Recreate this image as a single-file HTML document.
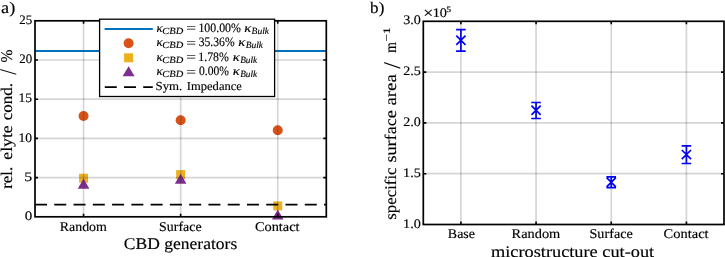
<!DOCTYPE html><html><head><meta charset="utf-8"><style>html,body{margin:0;padding:0;background:#fff;overflow:hidden}svg{display:block}text{font-family:"Liberation Serif","DejaVu Serif",serif;text-rendering:geometricPrecision;fill:#000;stroke:#000;stroke-width:0.15px}</style></head><body>
<svg width="725" height="257" viewBox="0 0 725 257">
<rect width="725" height="257" fill="#fff"/>
<path d="M35.0 51H326.3" stroke="#0072BD" stroke-width="1.8"/>
<circle cx="83.55" cy="116.0" r="5.0" fill="#D95319"/>
<circle cx="180.65" cy="120.2" r="5.0" fill="#D95319"/>
<circle cx="277.75" cy="130.2" r="5.0" fill="#D95319"/>
<rect x="79.05" y="173.70" width="9" height="9" fill="#EDB120"/>
<rect x="176.15" y="170.10" width="9" height="9" fill="#EDB120"/>
<rect x="273.25" y="201.40" width="9" height="9" fill="#EDB120"/>
<path d="M83.55 178.6L89.35 188.8L77.75 188.8Z" fill="#7E2F8E"/>
<path d="M180.65 173.8L186.45 183.8L174.85 183.8Z" fill="#7E2F8E"/>
<path d="M277.75 209.6L283.55 219.4L271.95 219.4Z" fill="#7E2F8E"/>
<path d="M35.0 204.6H326.3" stroke="#000" stroke-width="1.8" stroke-dasharray="12 7.27"/>
<path d="M83.55 20.8V216.8" stroke="#262626" stroke-opacity="0.19" stroke-width="1.7" fill="none"/>
<path d="M180.65 20.8V216.8" stroke="#262626" stroke-opacity="0.19" stroke-width="1.7" fill="none"/>
<path d="M277.75 20.8V216.8" stroke="#262626" stroke-opacity="0.19" stroke-width="1.7" fill="none"/>
<path d="M35.0 177.60H326.3" stroke="#262626" stroke-opacity="0.19" stroke-width="1.7" fill="none"/>
<path d="M35.0 138.40H326.3" stroke="#262626" stroke-opacity="0.19" stroke-width="1.7" fill="none"/>
<path d="M35.0 99.20H326.3" stroke="#262626" stroke-opacity="0.19" stroke-width="1.7" fill="none"/>
<path d="M35.0 60.00H326.3" stroke="#262626" stroke-opacity="0.19" stroke-width="1.7" fill="none"/>
<path d="M83.55 216.8v-3.0M83.55 20.8v3.0M180.65 216.8v-3.0M180.65 20.8v3.0M277.75 216.8v-3.0M277.75 20.8v3.0M35.0 177.60h3.0M326.3 177.60h-3.0M35.0 138.40h3.0M326.3 138.40h-3.0M35.0 99.20h3.0M326.3 99.20h-3.0M35.0 60.00h3.0M326.3 60.00h-3.0" stroke="#000" stroke-width="1.6" fill="none"/>
<rect x="35.0" y="20.8" width="291.30" height="196.00" fill="none" stroke="#000" stroke-width="1.7"/>
<rect x="99.6" y="19.2" width="175" height="77.3" fill="#fff" stroke="#000" stroke-width="1.3"/>
<path d="M104.6 29H152.8" stroke="#0072BD" stroke-width="1.8"/>
<circle cx="128.6" cy="43.2" r="5" fill="#D95319"/>
<rect x="124.1" y="53.3" width="9" height="9" fill="#EDB120"/>
<path d="M128.6 66.2L134.6 76.2L122.6 76.2Z" fill="#7E2F8E"/>
<path d="M104.8 87.2H152.8" stroke="#000" stroke-width="1.8" stroke-dasharray="12 7.2"/>
<path d="M460.89 29.6V51.1M456.09 29.6H465.69M456.09 51.1H465.69M456.29 35.70L465.49 44.90M456.29 44.90L465.49 35.70M536.06 102.5V118.5M531.26 102.5H540.86M531.26 118.5H540.86M531.46 105.70L540.66 114.90M531.46 114.90L540.66 105.70M611.24 176.8V187.7M606.44 176.8H616.04M606.44 187.7H616.04M606.64 177.60L615.84 186.80M606.64 186.80L615.84 177.60M686.41 145.9V163.5M681.61 145.9H691.21M681.61 163.5H691.21M681.81 150.00L691.01 159.20M681.81 159.20L691.01 150.00" stroke="#0000FF" stroke-width="1.7" fill="none"/>
<path d="M460.89 21.3V224.5" stroke="#262626" stroke-opacity="0.19" stroke-width="1.7" fill="none"/>
<path d="M536.06 21.3V224.5" stroke="#262626" stroke-opacity="0.19" stroke-width="1.7" fill="none"/>
<path d="M611.24 21.3V224.5" stroke="#262626" stroke-opacity="0.19" stroke-width="1.7" fill="none"/>
<path d="M686.41 21.3V224.5" stroke="#262626" stroke-opacity="0.19" stroke-width="1.7" fill="none"/>
<path d="M423.3 173.70H724.0" stroke="#262626" stroke-opacity="0.19" stroke-width="1.7" fill="none"/>
<path d="M423.3 122.90H724.0" stroke="#262626" stroke-opacity="0.19" stroke-width="1.7" fill="none"/>
<path d="M423.3 72.10H724.0" stroke="#262626" stroke-opacity="0.19" stroke-width="1.7" fill="none"/>
<path d="M460.89 224.5v-3.0M460.89 21.3v3.0M536.06 224.5v-3.0M536.06 21.3v3.0M611.24 224.5v-3.0M611.24 21.3v3.0M686.41 224.5v-3.0M686.41 21.3v3.0M423.3 173.70h3.0M724.0 173.70h-3.0M423.3 122.90h3.0M724.0 122.90h-3.0M423.3 72.10h3.0M724.0 72.10h-3.0" stroke="#000" stroke-width="1.6" fill="none"/>
<rect x="423.3" y="21.3" width="300.70" height="203.20" fill="none" stroke="#000" stroke-width="1.7"/>
<text x="1.06" y="12.60" style="font-size:16.3px" textLength="14.21" lengthAdjust="spacingAndGlyphs">a)</text>
<text x="24.70" y="219.90" style="font-size:13.0px" textLength="7.50" lengthAdjust="spacingAndGlyphs">0</text>
<text x="24.36" y="180.70" style="font-size:13.0px" textLength="7.88" lengthAdjust="spacingAndGlyphs">5</text>
<text x="18.58" y="141.50" style="font-size:13.0px" textLength="13.56" lengthAdjust="spacingAndGlyphs">10</text>
<text x="18.58" y="102.30" style="font-size:13.0px" textLength="13.56" lengthAdjust="spacingAndGlyphs">15</text>
<text x="19.22" y="63.10" style="font-size:13.0px" textLength="12.90" lengthAdjust="spacingAndGlyphs">20</text>
<text x="19.22" y="23.90" style="font-size:13.0px" textLength="12.90" lengthAdjust="spacingAndGlyphs">25</text>
<text x="59.78" y="230.80" style="font-size:13.4px" textLength="47.11" lengthAdjust="spacingAndGlyphs">Random</text>
<text x="159.10" y="230.80" style="font-size:13.4px" textLength="42.47" lengthAdjust="spacingAndGlyphs">Surface</text>
<text x="254.93" y="230.80" style="font-size:13.4px" textLength="44.65" lengthAdjust="spacingAndGlyphs">Contact</text>
<text x="123.80" y="249.00" style="font-size:16.3px" textLength="113.43" lengthAdjust="spacingAndGlyphs">CBD generators</text>
<text transform="translate(12.10 188.50) rotate(-90)" x="-0.34" y="0" style="font-size:16.3px" textLength="22.14" lengthAdjust="spacingAndGlyphs">rel.</text>
<text transform="translate(12.10 159.00) rotate(-90)" x="-0.71" y="0" style="font-size:16.3px" textLength="34.40" lengthAdjust="spacingAndGlyphs">elyte</text>
<text transform="translate(12.10 119.70) rotate(-90)" x="-0.68" y="0" style="font-size:16.3px" textLength="37.37" lengthAdjust="spacingAndGlyphs">cond.</text>
<text transform="translate(16.10 74.80) rotate(-90) scale(1 1.476)" x="-0.00" y="0" style="font-size:16.3px;stroke-width:0" textLength="5.76" lengthAdjust="spacingAndGlyphs">/</text>
<text transform="translate(12.10 61.90) rotate(-90)" x="-0.54" y="0" style="font-size:16.3px" textLength="12.96" lengthAdjust="spacingAndGlyphs">%</text>
<text x="156.45" y="31.60" style="font-size:12.2px;font-style:italic" textLength="6.12" lengthAdjust="spacingAndGlyphs">κ</text>
<text x="162.33" y="33.70" style="font-size:9.4px;font-style:italic" textLength="20.83" lengthAdjust="spacingAndGlyphs">CBD</text>
<text x="186.24" y="32.30" style="font-size:12.2px" textLength="9.70" lengthAdjust="spacingAndGlyphs">=</text>
<text x="198.43" y="31.60" style="font-size:12.9px" textLength="42.46" lengthAdjust="spacingAndGlyphs">100.00%</text>
<text x="244.19" y="31.60" style="font-size:12.2px;font-style:italic" textLength="6.96" lengthAdjust="spacingAndGlyphs">κ</text>
<text x="251.60" y="33.70" style="font-size:9.4px;font-style:italic" textLength="17.48" lengthAdjust="spacingAndGlyphs">Bulk</text>
<text x="156.45" y="46.10" style="font-size:12.2px;font-style:italic" textLength="6.12" lengthAdjust="spacingAndGlyphs">κ</text>
<text x="162.33" y="48.20" style="font-size:9.4px;font-style:italic" textLength="20.83" lengthAdjust="spacingAndGlyphs">CBD</text>
<text x="186.24" y="46.80" style="font-size:12.2px" textLength="9.70" lengthAdjust="spacingAndGlyphs">=</text>
<text x="198.72" y="46.10" style="font-size:12.9px" textLength="35.87" lengthAdjust="spacingAndGlyphs">35.36%</text>
<text x="238.29" y="46.10" style="font-size:12.2px;font-style:italic" textLength="6.96" lengthAdjust="spacingAndGlyphs">κ</text>
<text x="245.71" y="48.20" style="font-size:9.4px;font-style:italic" textLength="17.28" lengthAdjust="spacingAndGlyphs">Bulk</text>
<text x="156.45" y="60.60" style="font-size:12.2px;font-style:italic" textLength="6.12" lengthAdjust="spacingAndGlyphs">κ</text>
<text x="162.33" y="62.70" style="font-size:9.4px;font-style:italic" textLength="20.83" lengthAdjust="spacingAndGlyphs">CBD</text>
<text x="186.24" y="61.30" style="font-size:12.2px" textLength="9.70" lengthAdjust="spacingAndGlyphs">=</text>
<text x="198.34" y="60.60" style="font-size:12.9px" textLength="30.56" lengthAdjust="spacingAndGlyphs">1.78%</text>
<text x="232.79" y="60.60" style="font-size:12.2px;font-style:italic" textLength="6.96" lengthAdjust="spacingAndGlyphs">κ</text>
<text x="240.21" y="62.70" style="font-size:9.4px;font-style:italic" textLength="16.98" lengthAdjust="spacingAndGlyphs">Bulk</text>
<text x="156.45" y="75.10" style="font-size:12.2px;font-style:italic" textLength="6.12" lengthAdjust="spacingAndGlyphs">κ</text>
<text x="162.33" y="77.20" style="font-size:9.4px;font-style:italic" textLength="20.83" lengthAdjust="spacingAndGlyphs">CBD</text>
<text x="186.24" y="75.80" style="font-size:12.2px" textLength="9.70" lengthAdjust="spacingAndGlyphs">=</text>
<text x="198.94" y="75.10" style="font-size:12.9px" textLength="29.95" lengthAdjust="spacingAndGlyphs">0.00%</text>
<text x="232.79" y="75.10" style="font-size:12.2px;font-style:italic" textLength="6.96" lengthAdjust="spacingAndGlyphs">κ</text>
<text x="240.21" y="77.20" style="font-size:9.4px;font-style:italic" textLength="16.98" lengthAdjust="spacingAndGlyphs">Bulk</text>
<text x="155.57" y="89.60" style="font-size:12.2px" textLength="26.76" lengthAdjust="spacingAndGlyphs">Sym.</text>
<text x="186.86" y="89.60" style="font-size:12.2px" textLength="54.99" lengthAdjust="spacingAndGlyphs">Impedance</text>
<text x="370.10" y="12.60" style="font-size:16.3px" textLength="14.24" lengthAdjust="spacingAndGlyphs">b)</text>
<text x="403.12" y="227.50" style="font-size:13.0px" textLength="17.75" lengthAdjust="spacingAndGlyphs">1.0</text>
<text x="403.12" y="176.70" style="font-size:13.0px" textLength="17.75" lengthAdjust="spacingAndGlyphs">1.5</text>
<text x="403.27" y="125.90" style="font-size:13.0px" textLength="17.60" lengthAdjust="spacingAndGlyphs">2.0</text>
<text x="403.27" y="75.10" style="font-size:13.0px" textLength="17.60" lengthAdjust="spacingAndGlyphs">2.5</text>
<text x="403.19" y="24.30" style="font-size:13.0px" textLength="17.67" lengthAdjust="spacingAndGlyphs">3.0</text>
<text x="423.38" y="18.00" style="font-size:15.5px" textLength="10.03" lengthAdjust="spacingAndGlyphs">×</text>
<text x="432.72" y="16.50" style="font-size:13.0px" textLength="14.25" lengthAdjust="spacingAndGlyphs">10</text>
<text x="446.22" y="11.80" style="font-size:8.4px" textLength="4.87" lengthAdjust="spacingAndGlyphs">5</text>
<text x="447.88" y="238.20" style="font-size:13.4px" textLength="27.09" lengthAdjust="spacingAndGlyphs">Base</text>
<text x="511.57" y="238.20" style="font-size:13.4px" textLength="48.73" lengthAdjust="spacingAndGlyphs">Random</text>
<text x="589.48" y="238.20" style="font-size:13.4px" textLength="43.30" lengthAdjust="spacingAndGlyphs">Surface</text>
<text x="663.62" y="238.20" style="font-size:13.4px" textLength="44.96" lengthAdjust="spacingAndGlyphs">Contact</text>
<text x="491.03" y="256.90" style="font-size:16.3px" textLength="163.13" lengthAdjust="spacingAndGlyphs">microstructure cut-out</text>
<text transform="translate(396.00 219.00) rotate(-90)" x="-0.67" y="0" style="font-size:16.3px" textLength="52.16" lengthAdjust="spacingAndGlyphs">specific</text>
<text transform="translate(396.00 161.80) rotate(-90)" x="-0.72" y="0" style="font-size:16.3px" textLength="52.29" lengthAdjust="spacingAndGlyphs">surface</text>
<text transform="translate(396.00 104.90) rotate(-90)" x="-0.66" y="0" style="font-size:16.3px" textLength="31.33" lengthAdjust="spacingAndGlyphs">area</text>
<text transform="translate(400.00 68.70) rotate(-90) scale(1 1.476)" x="-0.00" y="0" style="font-size:16.3px;stroke-width:0" textLength="6.67" lengthAdjust="spacingAndGlyphs">/</text>
<text transform="translate(396.00 52.50) rotate(-90)" x="-0.27" y="0" style="font-size:16.3px" textLength="10.62" lengthAdjust="spacingAndGlyphs">m</text>
<text transform="translate(390.00 40.80) rotate(-90)" x="-0.66" y="0" style="font-size:10.0px" textLength="14.04" lengthAdjust="spacingAndGlyphs">−1</text>
</svg></body></html>
